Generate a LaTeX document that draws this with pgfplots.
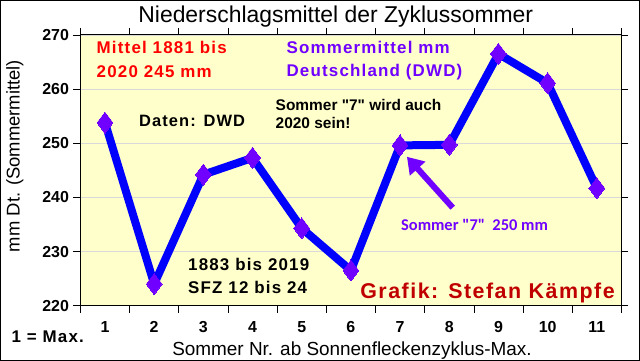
\documentclass[border=0pt]{standalone}
\usepackage{pgfplots}
\pgfplotsset{compat=1.18}
\usepackage{fontspec}
\setmainfont{Liberation Sans}
\newfontfamily\calib{Carlito}
\newfontfamily\plainf{Liberation Sans}
\newfontfamily\wideb[LetterSpace=7]{Liberation Sans}
\usetikzlibrary{arrows.meta}
\definecolor{plotbg}{HTML}{FFFFCC}
\definecolor{lineblue}{HTML}{0000FF}
\definecolor{mkpurple}{HTML}{7000FF}
\definecolor{txtred}{HTML}{FF0000}
\definecolor{darkred}{HTML}{C00000}
\begin{document}
\begin{tikzpicture}
\path[use as bounding box] (-80.4bp,-55.3bp) rectangle (559.6bp,305.7bp);
\draw[black,line width=1.2bp] (-79.6bp,-54.5bp) rectangle (558.8bp,304.9bp);
\begin{axis}[
  scale only axis,
  width=541bp, height=270.8bp,
  at={(0,0)}, anchor=south west,
  xmin=0.5, xmax=11.5, ymin=220, ymax=270,
  axis background/.style={fill=plotbg},
  axis line style={black,line width=0.8bp},
  xtick={1,...,11},
  minor xtick={0.5,1.5,...,11.5},
  ytick={220,230,...,270},
  tick align=outside,
  major tick length=7bp,
  minor tick length=7bp,
  major x tick style={draw=none},
  minor x tick style={black,line width=0.6bp},
  major y tick style={black,line width=0.6bp},
  ymajorgrids,
  grid style={black!15,line width=0.6bp},
  /pgf/number format/assume math mode=true,
  ticklabel style={font=\fontsize{16}{18}\selectfont\bfseries},
  xticklabel style={yshift=-5bp},
  yticklabel style={xshift=-1bp},
  xlabel={Sommer Nr. ab Sonnenfleckenzyklus-Max.},
  xlabel style={at={(axis description cs:0.502,-0.167)},anchor=center,font=\fontsize{19}{21}\selectfont},
  ylabel={mm Dt. (Sommermittel)},
  ylabel style={at={(axis description cs:-0.121,0.553)},anchor=center,rotate=0,font=\fontsize{18.5}{20}\selectfont},
  title={Niederschlagsmittel der Zyklussommer},
  title style={at={(axis description cs:0.472,1.024)},anchor=base,font=\fontsize{23}{25}\selectfont},
  clip=false,
]
\addplot[lineblue,line width=8bp,line join=round,
  mark=diamond*,mark size=10.5bp,mark options={fill=mkpurple,draw=mkpurple,line width=0pt}]
  coordinates {(1,253.8) (2,224.0) (3,244.2) (4,247.3) (5,234.3) (6,226.5) (7,249.6) (8,249.7) (9,266.5) (10,261.1) (11,241.7)};
\draw[mkpurple,line width=6bp,-{Triangle[length=16bp,width=20bp]}] (axis cs:8.07,238.1) -- (axis cs:7.14,247.5);
\node[anchor=west,text=txtred,font=\fontsize{17}{18}\selectfont\wideb\bfseries] at (axis cs:0.76,267.6) {Mittel 1881 bis};
\node[anchor=west,text=txtred,font=\fontsize{17}{18}\selectfont\wideb\bfseries] at (axis cs:0.76,263.2) {2020 245 mm};
\node[anchor=west,text=mkpurple,font=\fontsize{17}{18}\selectfont\wideb\bfseries] at (axis cs:4.62,267.6) {Sommermittel mm};
\node[anchor=west,text=mkpurple,font=\fontsize{17}{18}\selectfont\wideb\bfseries] at (axis cs:4.62,263.2) {Deutschland (DWD)};
\node[anchor=west,font=\fontsize{16.5}{18}\selectfont\wideb\bfseries] at (axis cs:1.62,254.2) {Daten: DWD};
\node[anchor=west,font=\fontsize{15.5}{18}\selectfont\plainf\bfseries] at (axis cs:4.40,257.1) {Sommer "7" wird auch};
\node[anchor=west,font=\fontsize{15.5}{18}\selectfont\plainf\bfseries] at (axis cs:4.40,253.8) {2020 sein!};
\node[anchor=west,text=mkpurple,font=\fontsize{16.5}{18}\selectfont\calib\bfseries] at (axis cs:6.95,234.9) {Sommer "7"\ \ 250 mm};
\node[anchor=west,font=\fontsize{17}{18}\selectfont\wideb\bfseries] at (axis cs:2.62,227.7) {1883 bis 2019};
\node[anchor=west,font=\fontsize{17}{18}\selectfont\wideb\bfseries] at (axis cs:2.62,223.4) {SFZ 12 bis 24};
\node[anchor=west,text=darkred,font=\fontsize{21.5}{23}\selectfont\wideb\bfseries] at (axis cs:6.12,222.3) {Grafik: Stefan Kämpfe};
\node[anchor=west,font=\fontsize{17}{18}\selectfont\wideb\bfseries] at (axis cs:-0.97,214.3) {1 = Max.};
\end{axis}
\end{tikzpicture}
\end{document}
